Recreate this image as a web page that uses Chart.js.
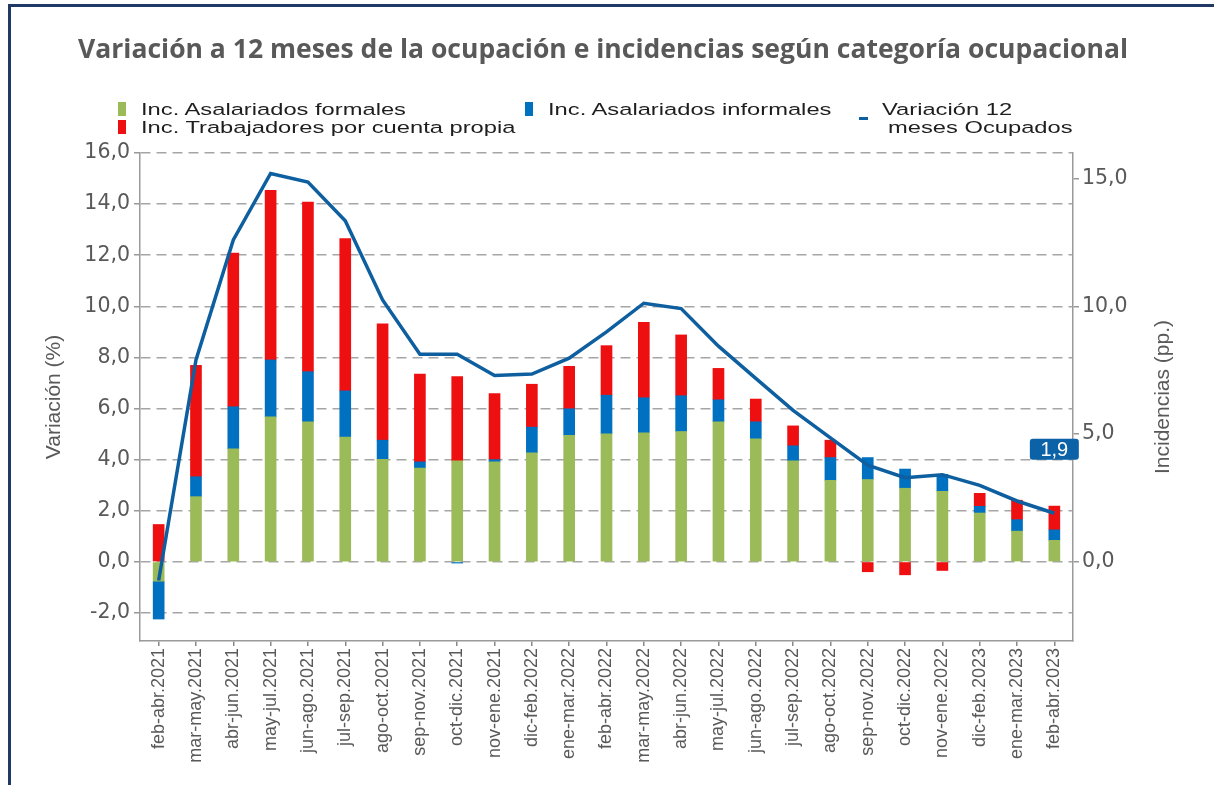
<!DOCTYPE html>
<html>
<head>
<meta charset="utf-8">
<script src="https://cdn.jsdelivr.net/npm/chart.js@4/dist/chart.umd.min.js"></script>
<style>
  html, body { margin: 0; padding: 0; background: #fff; overflow: hidden; }
  #wrap { position: relative; width: 1214px; height: 785px; overflow: hidden; }
  #frame { position: absolute; left: 8px; top: 4px; width: 1400px; height: 1000px; border: 3px solid #1f3864; box-sizing: border-box; }
  #title { position: absolute; left: 78px; top: 35px; font: bold 26.6px 'Open Sans'; line-height: 1; color: #595959; white-space: nowrap; transform-origin: left top; }
  .mk { position: absolute; }
  .lt { position: absolute; font: 17.2px 'Liberation Sans'; line-height: 1; color: #1e1e1e; white-space: nowrap; transform-origin: left top; transform: scaleX(1.38); }
  canvas { position: absolute; left: 0; top: 0; }
</style>
</head>
<body>
<div id="wrap">
  <div id="frame"></div>
  <canvas id="myChart" width="1214" height="785"></canvas>
  <div id="title">Variación a 12 meses de la ocupación e incidencias según categoría ocupacional</div>
  <div id="legend"></div>
</div>
<script>
const categories = ['feb-abr.2021', 'mar-may.2021', 'abr-jun.2021', 'may-jul.2021', 'jun-ago.2021', 'jul-sep.2021',
  'ago-oct.2021', 'sep-nov.2021', 'oct-dic.2021', 'nov-ene.2021', 'dic-feb.2022', 'ene-mar.2022', 'feb-abr.2022',
  'mar-may.2022', 'abr-jun.2022', 'may-jul.2022', 'jun-ago.2022', 'jul-sep.2022', 'ago-oct.2022', 'sep-nov.2022',
  'oct-dic.2022', 'nov-ene.2022', 'dic-feb.2023', 'ene-mar.2023', 'feb-abr.2023'];

// incidencias (pp.)
const formales = [-0.76, 2.55, 4.42, 5.67, 5.48, 4.88, 4.01, 3.67, 3.95, 3.91, 4.26, 4.95, 5.01, 5.05, 5.10, 5.48, 4.81, 3.95, 3.19, 3.22, 2.88, 2.76, 1.91, 1.20, 0.84];
const informales = [-1.48, 0.78, 1.65, 2.23, 1.96, 1.81, 0.75, 0.24, -0.05, 0.09, 1.01, 1.04, 1.51, 1.37, 1.40, 0.86, 0.67, 0.59, 0.89, 0.86, 0.75, 0.66, 0.26, 0.45, 0.41];
const cuentaPropia = [1.46, 4.36, 6.01, 6.64, 6.64, 5.96, 4.55, 3.44, 3.30, 2.58, 1.68, 1.66, 1.94, 2.95, 2.38, 1.23, 0.89, 0.78, 0.68, -0.39, -0.51, -0.34, 0.51, 0.76, 0.93];

// variacion 12 meses ocupados (%)
const ocupados = [-0.73, 7.9, 12.6, 15.2, 14.86, 13.35, 10.25, 8.12, 8.12, 7.29, 7.35, 7.97, 9.0, 10.12, 9.91, 8.44, 7.18, 5.93, 4.85, 3.78, 3.29, 3.41, 2.99, 2.38, 1.9];

const leftTicks = [-2, 0, 2, 4, 6, 8, 10, 12, 14, 16];
const rightTicks = [0, 5, 10, 15];

const GREEN = '#9BBB59';
const BLUE = '#0070C0';
const RED = '#EE1010';
const LINE = '#0E5FA0';
const GRAY = '#595959';

const fmt = v => v.toFixed(1).replace('.', ',');

// legend (html, laid out like the original)
const legendItems = [
  { text: 'Inc. Asalariados formales', color: GREEN, mx: 118, tx: 141, row: 0 },
  { text: 'Inc. Trabajadores por cuenta propia', color: RED, mx: 118, tx: 141, row: 1 },
  { text: 'Inc. Asalariados informales', color: BLUE, mx: 525, tx: 548, row: 0 },
];
const rowTop = [100.5, 118.5];
let html = '';
legendItems.forEach(it => {
  html += `<div class="mk" style="left:${it.mx}px;top:${rowTop[it.row] + 1}px;width:8px;height:14px;background:${it.color}"></div>`;
  html += `<div class="lt" style="left:${it.tx}px;top:${rowTop[it.row]}px">${it.text}</div>`;
});
html += `<div class="mk" style="left:859px;top:117px;width:9px;height:3px;background:${LINE}"></div>`;
html += `<div class="lt" style="left:882px;top:${rowTop[0]}px">Variación 12</div>`;
html += `<div class="lt" style="left:888px;top:${rowTop[1]}px">meses Ocupados</div>`;
document.getElementById('legend').innerHTML = html;

const title = document.getElementById('title');
title.style.transform = `scaleX(${1050 / title.getBoundingClientRect().width})`;

const keepTicks = list => scale => {
  scale.ticks = scale.ticks.filter(t => list.some(v => Math.abs(v - t.value) < 1e-9));
};

const extras = {
  id: 'extras',
  afterDraw(chart) {
    const ctx = chart.ctx;
    const y1 = chart.scales.y1;
    const area = chart.chartArea;
    ctx.save();
    // right axis title, reading bottom to top
    ctx.translate(y1.right - 51, (area.top + area.bottom) / 2);
    ctx.rotate(-Math.PI / 2);
    ctx.font = '21px "Liberation Sans"';
    ctx.fillStyle = GRAY;
    ctx.textAlign = 'center';
    ctx.textBaseline = 'middle';
    ctx.fillText('Incidencias (pp.)', 0, 0);
    ctx.restore();

    // last value label
    const meta = chart.getDatasetMeta(0);
    const last = meta.data[meta.data.length - 1];
    const cx = last.x, cy = last.y - 64;
    ctx.save();
    ctx.fillStyle = '#0B62A6';
    ctx.beginPath();
    ctx.roundRect(cx - 24.5, cy - 10.5, 49, 21, 3);
    ctx.fill();
    ctx.fillStyle = '#fff';
    ctx.font = '20px "Liberation Sans"';
    ctx.textAlign = 'center';
    ctx.textBaseline = 'middle';
    ctx.fillText(fmt(ocupados[ocupados.length - 1]), cx, cy + 1);
    ctx.restore();
  }
};

const ctx = document.getElementById('myChart');
new Chart(ctx, {
  type: 'bar',
  data: {
    labels: categories,
    datasets: [
      {
        type: 'line',
        label: 'Variación 12 meses Ocupados',
        data: ocupados,
        borderColor: LINE,
        borderWidth: 3.5,
        pointRadius: 0,
        tension: 0,
        order: 0,
        yAxisID: 'y'
      },
      { label: 'Inc. Asalariados formales', data: formales, backgroundColor: GREEN, barThickness: 11, order: 1 },
      { label: 'Inc. Asalariados informales', data: informales, backgroundColor: BLUE, barThickness: 11, order: 1 },
      { label: 'Inc. Trabajadores por cuenta propia', data: cuentaPropia, backgroundColor: RED, barThickness: 11, order: 1 }
    ]
  },
  options: {
    responsive: false,
    animation: false,
    devicePixelRatio: 1,
    layout: { padding: { top: 153, left: 0, right: 0, bottom: 0 } },
    plugins: {
      legend: { display: false },
      tooltip: { enabled: false }
    },
    scales: {
      x: {
        stacked: true,
        offset: true,
        grid: { drawOnChartArea: false, offset: false, tickLength: 5, color: '#888', lineWidth: 1.5 },
        border: { color: '#9a9a9a', width: 1.5 },
        ticks: {
          autoSkip: false, minRotation: 90, maxRotation: 90, padding: 2,
          color: GRAY, font: { family: 'Liberation Sans', size: 18 }
        },
        afterFit: s => { s.height = 144; }
      },
      y: {
        stacked: true,
        min: -3.1,
        max: 16,
        afterBuildTicks: keepTicks(leftTicks),
        afterFit: s => { s.width = 140; },
        ticks: {
          stepSize: 2, padding: 4, color: GRAY,
          font: { family: 'DejaVu Sans', size: 20.5 },
          callback: v => fmt(v)
        },
        grid: { color: '#A6A6A6', lineWidth: 1.5, tickLength: 6, tickColor: '#999', tickWidth: 1.5 },
        border: { dash: [10, 6], color: '#9a9a9a', width: 1.5 },
        title: {
          display: true, text: 'Variación (%)', color: GRAY,
          font: { family: 'Liberation Sans', size: 21 },
          padding: { top: 42, bottom: 0 }
        }
      },
      y1: {
        position: 'right',
        min: -3.1,
        max: 16,
        afterBuildTicks: keepTicks(rightTicks),
        afterFit: s => { s.width = 141; },
        ticks: {
          stepSize: 5, padding: 3, color: GRAY,
          font: { family: 'DejaVu Sans', size: 20.5 },
          callback: v => fmt(v)
        },
        grid: { drawOnChartArea: false, tickLength: 6, color: '#999', lineWidth: 1.5 },
        border: { color: '#9a9a9a', width: 1.5 }
      }
    }
  },
  plugins: [extras]
});
</script>
</body>
</html>
